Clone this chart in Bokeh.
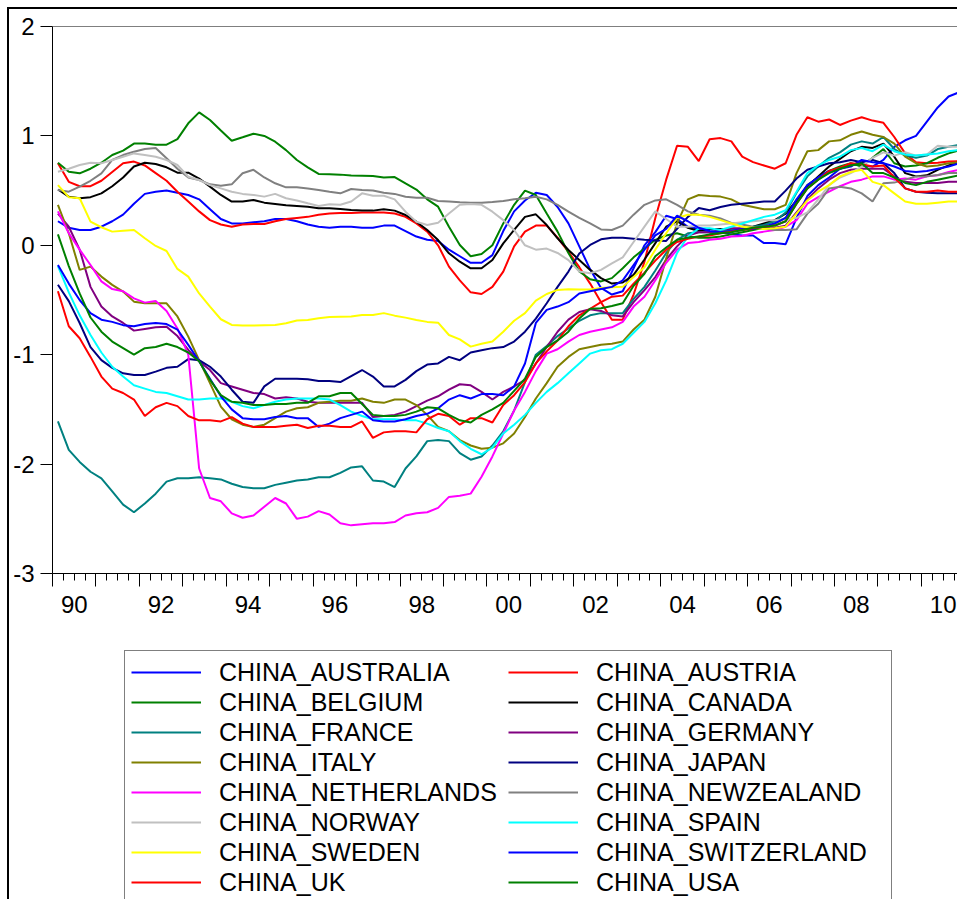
from bokeh.plotting import figure
from bokeh.layouts import column
from bokeh.models import (LinearAxis, FixedTicker, Range1d, Span, Legend, LegendItem,
                          CustomLabelingPolicy)
from bokeh.embed import file_html
from bokeh.resources import INLINE

# ---------------- data (quarterly, 1990Q1 .. 2010Q4) ----------------
START_YEAR = 1990
N_QUARTERS = 84
QUARTERS = [START_YEAR + (i + 0.5) / 4 for i in range(N_QUARTERS)]

AUSTRALIA = [0.22, 0.16, 0.14, 0.14, 0.17, 0.22, 0.28, 0.38, 0.47, 0.49, 0.50, 0.48, 0.46, 0.42, 0.33, 0.24, 0.20, 0.20, 0.21, 0.22, 0.24, 0.24, 0.22, 0.19, 0.17, 0.16, 0.17, 0.17,
             0.16, 0.16, 0.18, 0.18, 0.13, 0.08, 0.05, 0.04, -0.04, -0.10, -0.16, -0.16, -0.09, 0.13, 0.31, 0.41, 0.48, 0.46, 0.35, 0.20, -0.01, -0.22, -0.39, -0.45, -0.42, -0.21, 0.00, 0.12,
             0.27, 0.24, 0.17, 0.15, 0.12, 0.12, 0.10, 0.09, 0.09, 0.02, 0.02, 0.01, 0.25, 0.45, 0.55, 0.62, 0.70, 0.74, 0.73, 0.72, 0.78, 0.90, 0.96, 1.00, 1.13, 1.26, 1.36, 1.40]
AUSTRIA = [0.75, 0.58, 0.54, 0.54, 0.59, 0.67, 0.75, 0.765, 0.73, 0.66, 0.59, 0.49, 0.40, 0.31, 0.23, 0.19, 0.17, 0.19, 0.195, 0.195, 0.22, 0.24, 0.25, 0.26, 0.28, 0.29, 0.295, 0.295,
           0.30, 0.30, 0.30, 0.29, 0.26, 0.20, 0.125, 0.0, -0.195, -0.32, -0.43, -0.445, -0.38, -0.24, -0.01, 0.125, 0.18, 0.18, 0.07, -0.06, -0.20, -0.35, -0.52, -0.68, -0.68, -0.45, -0.15, 0.25,
           0.60, 0.91, 0.90, 0.77, 0.97, 0.98, 0.95, 0.81, 0.76, 0.73, 0.70, 0.75, 1.01, 1.17, 1.13, 1.15, 1.10, 1.14, 1.17, 1.14, 1.12, 0.99, 0.84, 0.76, 0.75, 0.755, 0.765, 0.77]
BELGIUM = [0.755, 0.673, 0.658, 0.70, 0.755, 0.825, 0.865, 0.93, 0.93, 0.92, 0.92, 0.97, 1.115, 1.215, 1.145, 1.05, 0.956, 0.987, 1.02, 1.0, 0.947, 0.87, 0.78, 0.713, 0.652, 0.649, 0.646, 0.637,
           0.636, 0.633, 0.62, 0.624, 0.566, 0.51, 0.42, 0.353, 0.17, 0.003, -0.10, -0.08, 0.0, 0.20, 0.37, 0.50, 0.46, 0.29, 0.125, -0.07, -0.24, -0.31, -0.33, -0.30, -0.21, -0.11, -0.03, 0.05,
           0.09, 0.11, 0.08, 0.07, 0.07, 0.08, 0.10, 0.12, 0.14, 0.16, 0.20, 0.25, 0.40, 0.55, 0.62, 0.68, 0.72, 0.75, 0.72, 0.80, 0.88, 0.75, 0.72, 0.73, 0.75, 0.80, 0.84, 0.87]
CANADA = [0.51, 0.445, 0.43, 0.44, 0.475, 0.54, 0.62, 0.72, 0.755, 0.743, 0.713, 0.664, 0.664, 0.61, 0.536, 0.46, 0.40, 0.40, 0.414, 0.39, 0.378, 0.366, 0.36, 0.353, 0.338, 0.338, 0.332, 0.323,
          0.317, 0.317, 0.33, 0.317, 0.277, 0.216, 0.14, 0.048, -0.073, -0.15, -0.21, -0.21, -0.134, 0.018, 0.14, 0.26, 0.283, 0.185, 0.064, -0.043, -0.134, -0.225, -0.30, -0.35, -0.34, -0.27, -0.13, 0.02,
          0.17, 0.22, 0.16, 0.13, 0.15, 0.15, 0.14, 0.15, 0.17, 0.20, 0.23, 0.29, 0.41, 0.54, 0.63, 0.72, 0.79, 0.86, 0.90, 0.89, 0.93, 0.81, 0.66, 0.63, 0.64, 0.69, 0.73, 0.76]
FRANCE = [-1.61, -1.87, -1.98, -2.07, -2.13, -2.25, -2.37, -2.44, -2.36, -2.27, -2.16, -2.13, -2.13, -2.12, -2.13, -2.14, -2.18, -2.21, -2.22, -2.22, -2.19, -2.17, -2.15, -2.14, -2.12, -2.12, -2.08, -2.03,
          -2.02, -2.15, -2.16, -2.21, -2.04, -1.93, -1.79, -1.78, -1.79, -1.90, -1.96, -1.93, -1.83, -1.70, -1.51, -1.25, -1.00, -0.92, -0.83, -0.76, -0.69, -0.64, -0.62, -0.62, -0.62, -0.49, -0.38, -0.23,
          -0.07, 0.05, 0.11, 0.12, 0.12, 0.12, 0.14, 0.14, 0.17, 0.185, 0.22, 0.30, 0.48, 0.63, 0.72, 0.80, 0.85, 0.92, 0.95, 0.93, 0.99, 0.88, 0.82, 0.80, 0.82, 0.88, 0.90, 0.92]
GERMANY = [0.29, 0.17, -0.04, -0.38, -0.56, -0.65, -0.71, -0.78, -0.765, -0.75, -0.745, -0.83, -0.956, -1.06, -1.14, -1.26, -1.29, -1.32, -1.35, -1.36, -1.40, -1.39, -1.40, -1.43, -1.44, -1.44, -1.44, -1.44,
           -1.44, -1.57, -1.56, -1.55, -1.52, -1.47, -1.42, -1.38, -1.32, -1.27, -1.28, -1.34, -1.41, -1.34, -1.29, -1.23, -1.08, -0.93, -0.79, -0.68, -0.61, -0.585, -0.60, -0.64, -0.65, -0.52, -0.41, -0.29,
           -0.13, -0.01, 0.09, 0.12, 0.12, 0.14, 0.155, 0.155, 0.16, 0.155, 0.16, 0.18, 0.30, 0.42, 0.52, 0.60, 0.66, 0.69, 0.70, 0.70, 0.70, 0.63, 0.58, 0.57, 0.57, 0.57, 0.58, 0.58]
ITALY = [0.37, 0.11, -0.225, -0.195, -0.286, -0.362, -0.423, -0.515, -0.53, -0.53, -0.53, -0.65, -0.835, -1.05, -1.26, -1.475, -1.59, -1.64, -1.66, -1.64, -1.58, -1.52, -1.49, -1.48, -1.44, -1.43, -1.42, -1.42,
         -1.40, -1.43, -1.44, -1.41, -1.41, -1.46, -1.55, -1.66, -1.70, -1.78, -1.83, -1.86, -1.85, -1.81, -1.72, -1.57, -1.40, -1.26, -1.11, -1.02, -0.95, -0.93, -0.91, -0.90, -0.88, -0.77, -0.68, -0.47,
         -0.12, 0.20, 0.42, 0.46, 0.45, 0.445, 0.42, 0.37, 0.35, 0.33, 0.33, 0.37, 0.66, 0.86, 0.87, 0.95, 0.96, 1.01, 1.04, 1.01, 0.99, 0.93, 0.81, 0.75, 0.72, 0.73, 0.75, 0.76]
JAPAN = [-0.36, -0.51, -0.71, -0.93, -1.05, -1.12, -1.17, -1.185, -1.185, -1.155, -1.12, -1.11, -1.04, -1.05, -1.11, -1.20, -1.32, -1.43, -1.44, -1.29, -1.22, -1.22, -1.22, -1.225, -1.24, -1.24, -1.25, -1.195,
         -1.14, -1.20, -1.29, -1.29, -1.23, -1.15, -1.09, -1.08, -1.02, -1.05, -0.98, -0.96, -0.94, -0.93, -0.88, -0.79, -0.67, -0.53, -0.38, -0.24, -0.075, 0.003, 0.055, 0.07, 0.07, 0.06, 0.05, 0.045,
         0.04, 0.15, 0.26, 0.34, 0.32, 0.35, 0.37, 0.38, 0.39, 0.40, 0.40, 0.50, 0.61, 0.69, 0.72, 0.75, 0.76, 0.78, 0.76, 0.78, 0.75, 0.66, 0.52, 0.49, 0.48, 0.475, 0.475, 0.475]
NETHERLANDS = [0.31, 0.11, -0.04, -0.18, -0.33, -0.40, -0.42, -0.485, -0.524, -0.51, -0.60, -0.76, -1.0, -2.04, -2.31, -2.34, -2.45, -2.49, -2.47, -2.39, -2.31, -2.36, -2.50, -2.48, -2.43, -2.46, -2.54, -2.56,
               -2.55, -2.54, -2.54, -2.53, -2.47, -2.45, -2.44, -2.40, -2.30, -2.29, -2.27, -2.115, -1.93, -1.72, -1.51, -1.34, -1.15, -0.99, -0.95, -0.88, -0.82, -0.79, -0.77, -0.75, -0.70, -0.56, -0.47, -0.32,
               -0.16, -0.04, 0.02, 0.03, 0.05, 0.06, 0.08, 0.085, 0.11, 0.125, 0.14, 0.17, 0.23, 0.38, 0.44, 0.49, 0.54, 0.58, 0.60, 0.63, 0.63, 0.60, 0.61, 0.60, 0.63, 0.64, 0.67, 0.69]
NEWZEALAND = [0.506, 0.49, 0.536, 0.59, 0.658, 0.78, 0.825, 0.856, 0.88, 0.89, 0.795, 0.70, 0.62, 0.597, 0.557, 0.545, 0.557, 0.658, 0.69, 0.62, 0.567, 0.53, 0.53, 0.52, 0.506, 0.49, 0.475, 0.515,
              0.505, 0.50, 0.48, 0.47, 0.444, 0.435, 0.435, 0.405, 0.40, 0.393, 0.39, 0.39, 0.395, 0.405, 0.42, 0.43, 0.444, 0.42, 0.37, 0.307, 0.25, 0.20, 0.145, 0.14, 0.18, 0.28, 0.37, 0.41,
              0.42, 0.37, 0.31, 0.28, 0.27, 0.245, 0.205, 0.19, 0.17, 0.155, 0.14, 0.14, 0.146, 0.29, 0.38, 0.52, 0.536, 0.52, 0.475, 0.40, 0.567, 0.573, 0.60, 0.63, 0.63, 0.643, 0.66, 0.66]
NORWAY = [0.673, 0.70, 0.734, 0.755, 0.75, 0.78, 0.81, 0.84, 0.825, 0.81, 0.78, 0.734, 0.627, 0.597, 0.55, 0.52, 0.49, 0.47, 0.46, 0.445, 0.47, 0.43, 0.41, 0.384, 0.36, 0.375, 0.37, 0.40,
          0.475, 0.453, 0.453, 0.42, 0.307, 0.216, 0.186, 0.207, 0.29, 0.37, 0.377, 0.37, 0.307, 0.23, 0.14, 0.0, -0.04, -0.03, -0.07, -0.135, -0.24, -0.256, -0.225, -0.165, -0.11, 0.03, 0.17, 0.31,
          0.24, 0.17, 0.17, 0.18, 0.18, 0.19, 0.20, 0.21, 0.22, 0.23, 0.23, 0.24, 0.25, 0.30, 0.42, 0.55, 0.62, 0.66, 0.72, 0.80, 0.85, 0.82, 0.85, 0.82, 0.83, 0.91, 0.90, 0.90]
SPAIN = [-0.19, -0.43, -0.64, -0.82, -0.98, -1.11, -1.20, -1.28, -1.31, -1.34, -1.35, -1.38, -1.41, -1.41, -1.40, -1.40, -1.43, -1.47, -1.49, -1.46, -1.43, -1.41, -1.40, -1.40, -1.40, -1.41, -1.46, -1.52,
         -1.56, -1.59, -1.59, -1.59, -1.60, -1.60, -1.63, -1.67, -1.70, -1.79, -1.86, -1.91, -1.85, -1.72, -1.64, -1.55, -1.44, -1.34, -1.26, -1.17, -1.08, -0.99, -0.96, -0.95, -0.90, -0.80, -0.70, -0.53,
         -0.32, -0.07, 0.08, 0.155, 0.155, 0.14, 0.17, 0.20, 0.23, 0.26, 0.28, 0.32, 0.49, 0.66, 0.73, 0.78, 0.81, 0.87, 0.89, 0.86, 0.92, 0.86, 0.83, 0.82, 0.83, 0.84, 0.86, 0.87]
SWEDEN = [0.55, 0.44, 0.43, 0.216, 0.165, 0.125, 0.134, 0.14, 0.064, -0.006, -0.052, -0.216, -0.286, -0.44, -0.56, -0.676, -0.728, -0.734, -0.734, -0.73, -0.728, -0.713, -0.688, -0.682, -0.667, -0.655, -0.652, -0.65,
          -0.637, -0.637, -0.62, -0.643, -0.661, -0.682, -0.70, -0.707, -0.82, -0.86, -0.926, -0.90, -0.88, -0.79, -0.69, -0.62, -0.506, -0.445, -0.408, -0.402, -0.405, -0.405, -0.39, -0.384, -0.38, -0.29, -0.20, -0.04,
          0.11, 0.25, 0.28, 0.28, 0.26, 0.23, 0.20, 0.17, 0.16, 0.15, 0.155, 0.17, 0.29, 0.41, 0.49, 0.55, 0.63, 0.67, 0.69, 0.58, 0.55, 0.475, 0.40, 0.38, 0.38, 0.39, 0.40, 0.40]
SWITZERLAND = [-0.18, -0.35, -0.50, -0.62, -0.68, -0.70, -0.73, -0.74, -0.72, -0.71, -0.72, -0.77, -0.91, -1.06, -1.22, -1.38, -1.50, -1.58, -1.59, -1.59, -1.57, -1.56, -1.58, -1.58, -1.66, -1.63, -1.58, -1.55,
               -1.52, -1.60, -1.61, -1.61, -1.59, -1.56, -1.54, -1.49, -1.41, -1.37, -1.40, -1.36, -1.36, -1.37, -1.29, -1.08, -0.71, -0.59, -0.56, -0.52, -0.44, -0.42, -0.40, -0.38, -0.32, -0.18, -0.04, 0.09,
               0.15, 0.27, 0.22, 0.16, 0.13, 0.12, 0.13, 0.15, 0.15, 0.17, 0.20, 0.25, 0.42, 0.55, 0.62, 0.68, 0.70, 0.72, 0.78, 0.76, 0.75, 0.72, 0.68, 0.67, 0.68, 0.70, 0.72, 0.75]
UK = [-0.42, -0.74, -0.85, -1.02, -1.20, -1.31, -1.35, -1.41, -1.56, -1.48, -1.44, -1.47, -1.56, -1.60, -1.60, -1.61, -1.57, -1.63, -1.66, -1.66, -1.66, -1.65, -1.64, -1.67, -1.65, -1.65, -1.66, -1.66,
      -1.61, -1.76, -1.71, -1.70, -1.70, -1.71, -1.59, -1.54, -1.56, -1.64, -1.58, -1.58, -1.62, -1.46, -1.37, -1.25, -1.08, -0.97, -0.87, -0.74, -0.64, -0.58, -0.52, -0.47, -0.46, -0.35, -0.25, -0.14,
      -0.04, 0.03, 0.06, 0.08, 0.09, 0.11, 0.125, 0.14, 0.155, 0.17, 0.18, 0.22, 0.38, 0.52, 0.60, 0.68, 0.71, 0.75, 0.74, 0.72, 0.73, 0.62, 0.52, 0.49, 0.49, 0.50, 0.49, 0.49]
USA = [0.10, -0.19, -0.44, -0.66, -0.79, -0.88, -0.94, -1.00, -0.94, -0.93, -0.90, -0.93, -0.98, -1.06, -1.23, -1.37, -1.43, -1.44, -1.46, -1.46, -1.45, -1.45, -1.44, -1.44, -1.38, -1.38, -1.35, -1.35,
       -1.45, -1.55, -1.56, -1.56, -1.55, -1.52, -1.48, -1.49, -1.55, -1.60, -1.62, -1.55, -1.50, -1.44, -1.33, -1.22, -1.02, -0.93, -0.87, -0.79, -0.67, -0.58, -0.575, -0.555, -0.53, -0.37, -0.26, -0.10,
       -0.02, 0.05, 0.07, 0.08, 0.10, 0.11, 0.12, 0.14, 0.16, 0.17, 0.18, 0.22, 0.38, 0.52, 0.60, 0.66, 0.70, 0.73, 0.75, 0.66, 0.66, 0.62, 0.57, 0.55, 0.58, 0.60, 0.62, 0.64]

SERIES_NAMES = ["CHINA_AUSTRALIA", "CHINA_AUSTRIA", "CHINA_BELGIUM", "CHINA_CANADA", "CHINA_FRANCE",
                "CHINA_GERMANY", "CHINA_ITALY", "CHINA_JAPAN", "CHINA_NETHERLANDS", "CHINA_NEWZEALAND",
                "CHINA_NORWAY", "CHINA_SPAIN", "CHINA_SWEDEN", "CHINA_SWITZERLAND", "CHINA_UK", "CHINA_USA"]
SERIES_VALUES = [AUSTRALIA, AUSTRIA, BELGIUM, CANADA, FRANCE, GERMANY, ITALY, JAPAN, NETHERLANDS,
                 NEWZEALAND, NORWAY, SPAIN, SWEDEN, SWITZERLAND, UK, USA]
SERIES_COLORS = ["#0000FF", "#FF0000", "#008000", "#000000", "#008080", "#800080", "#808000", "#000080",
                 "#FF00FF", "#808080", "#C0C0C0", "#00FFFF", "#FFFF00", "#0000FF", "#FF0000", "#008000"]

YEAR_TICKS = list(range(1990, 2011))
QUARTER_TICKS = [y + q / 4 for y in range(1990, 2011) for q in (1, 2, 3)]
XLABEL_YEARS = list(range(1990, 2011, 2))
XLABELS = ["90", "92", "94", "96", "98", "00", "02", "04", "06", "08", "10"]
YTICKS = [-3, -2, -1, 0, 1, 2]
YLABELS = ["-3", "-2", "-1", "0", "1", "2"]

for nm, vals in zip(SERIES_NAMES, SERIES_VALUES):
    assert len(vals) == N_QUARTERS, (nm, len(vals))

FONT = "Liberation Sans"
W = 948

# ---------------- main chart ----------------
p = figure(width=W, height=640, output_backend="svg", toolbar_location=None,
           x_range=Range1d(1990.0, 2010.83), y_range=Range1d(-3, 2),
           x_axis_location=None, y_axis_location=None,
           min_border_left=43, min_border_right=0, min_border_top=17, min_border_bottom=76)
p.xgrid.visible = False
p.ygrid.visible = False
p.outline_line_color = None
p.background_fill_color = "white"
p.border_fill_color = "white"

yaxis = LinearAxis(ticker=FixedTicker(ticks=YTICKS, minor_ticks=[]),
                   major_label_overrides={t: l for t, l in zip(YTICKS, YLABELS)},
                   major_tick_out=12, major_tick_in=0, minor_tick_out=0, minor_tick_in=0,
                   axis_line_color="black", major_tick_line_color="black",
                   major_label_text_font=FONT, major_label_text_font_size="24px",
                   major_label_text_color="black", major_label_standoff=6)
p.add_layout(yaxis, "left")

# tick marks only (years long, quarters short)
no_labels = CustomLabelingPolicy(code="for (const i of indices) indices.unset(i)")
xaxis_ticks = LinearAxis(ticker=FixedTicker(ticks=YEAR_TICKS, minor_ticks=QUARTER_TICKS),
                         major_tick_out=13, major_tick_in=0, minor_tick_out=7, minor_tick_in=0,
                         axis_line_color="black", major_tick_line_color="black",
                         minor_tick_line_color="black", major_label_policy=no_labels,
                         major_label_text_font_size="0px", major_label_standoff=0)
p.add_layout(xaxis_ticks, "below")

# year labels centred in their (even) years
label_pos = [y + 0.5 for y in XLABEL_YEARS]
xaxis_labels = LinearAxis(ticker=FixedTicker(ticks=label_pos, minor_ticks=[]),
                          major_label_overrides={t: l for t, l in zip(label_pos, XLABELS)},
                          major_tick_out=0, major_tick_in=0, minor_tick_out=0, minor_tick_in=0,
                          axis_line_color=None, major_tick_line_color=None,
                          major_label_text_font=FONT, major_label_text_font_size="24px",
                          major_label_text_color="black", major_label_standoff=9)
p.add_layout(xaxis_labels, "below")

p.add_layout(Span(location=2, dimension="width", line_color="black", line_width=1))

for vals, col in zip(SERIES_VALUES, SERIES_COLORS):
    p.line(QUARTERS, vals, line_color=col, line_width=2)

# ---------------- legend panel ----------------
lg = figure(width=W, height=250, output_backend="svg", toolbar_location=None,
            x_range=Range1d(0, 1), y_range=Range1d(0, 1),
            x_axis_location=None, y_axis_location=None,
            min_border_left=0, min_border_right=0, min_border_top=0, min_border_bottom=0)
lg.xgrid.visible = False
lg.ygrid.visible = False
lg.outline_line_color = None
lg.background_fill_color = "white"
lg.border_fill_color = "white"

items = []
for nm, vals, col in zip(SERIES_NAMES, SERIES_VALUES, SERIES_COLORS):
    # same series; outside this panel's view, only used for the legend swatches
    r = lg.line(QUARTERS, vals, line_color=col, line_width=2)
    items.append(LegendItem(label=nm, renderers=[r]))

legend = Legend(items=items, orientation="horizontal", ncols=2, location=(72, -5),
                label_text_font=FONT, label_text_font_size="25px", label_text_color="black",
                glyph_width=70, glyph_height=30, label_height=30, label_width=289,
                label_standoff=18, spacing=0, padding=6, margin=0,
                border_line_color="black", border_line_width=1,
                background_fill_color="white", background_fill_alpha=1.0)
lg.add_layout(legend, "center")

page = column(p, lg, spacing=0,
              styles={"margin-left": "7px", "margin-top": "7px",
                      "border-top": "2px solid black", "border-left": "2px solid black"})

open("out.html", "w").write(file_html(page, INLINE))
